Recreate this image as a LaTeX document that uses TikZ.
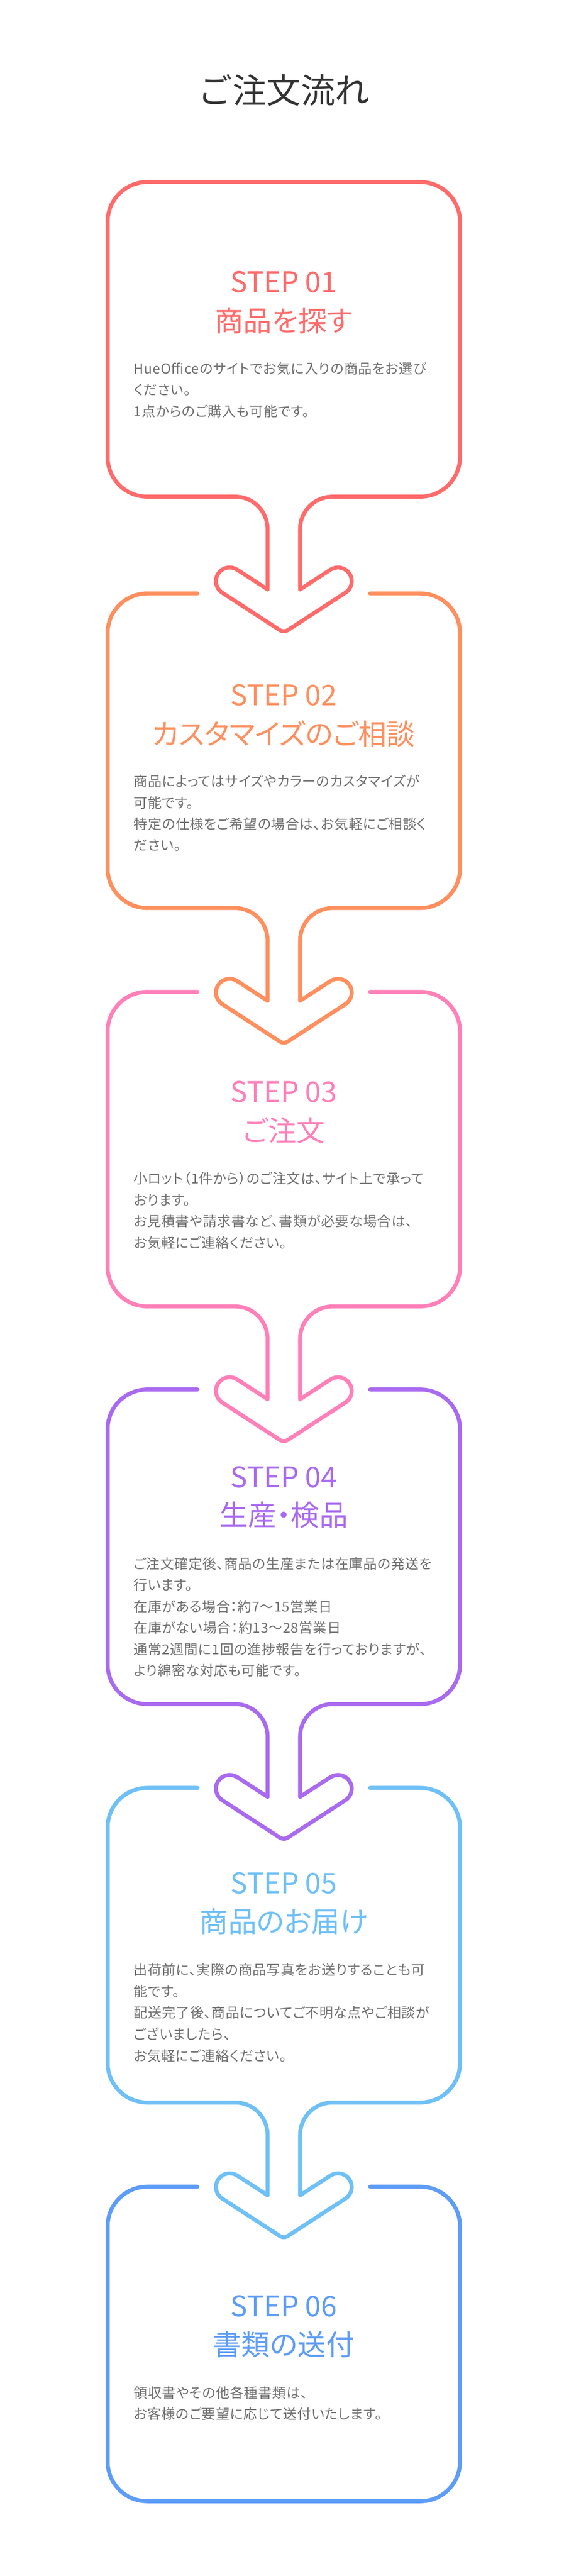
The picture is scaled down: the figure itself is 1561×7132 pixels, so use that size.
\documentclass[tikz,border=0pt]{standalone}
\usepackage{fontspec}
\setmainfont{Noto Sans CJK JP}
\newfontfamily\paltfont[RawFeature=+palt]{Noto Sans CJK JP}
\newfontfamily\bodyfont[RawFeature=+palt, LetterSpace=3]{Noto Sans CJK JP}
\definecolor{step1}{HTML}{FF6B6B}
\definecolor{step2}{HTML}{FF8F5E}
\definecolor{step3}{HTML}{FF80B9}
\definecolor{step4}{HTML}{A96AF0}
\definecolor{step5}{HTML}{6EC0F7}
\definecolor{step6}{HTML}{5D9CF8}
\definecolor{titlegrey}{HTML}{333333}
\definecolor{bodygrey}{HTML}{707070}
\tikzset{
	outline/.style={
		line width=5.5pt,
		line cap=round,
		line join=round
	},
	steplbl/.style={
		inner sep=0pt,
		font=\paltfont\fontsize{39.5}{42}\selectfont
	},
	bodyline/.style={
		anchor=west,
		inner sep=0pt,
		text=bodygrey,
		font=\bodyfont\fontsize{19}{30}\selectfont
	}
}
\begin{document}
\begin{tikzpicture}[x=0.5pt, y=-0.5pt]

\fill[white] (0,0) rectangle (1561,7132);
\useasboundingbox (0,0) rectangle (1561,7132);

\node(title)[inner sep=0pt, text=titlegrey, font=\fontsize{47.5}{50}\selectfont] at (786,250) {ご注文流れ};

% boxes, necks and arrow heads
\foreach \ii/\yt/\xs in {1/504/786, 2/1643/547, 3/2746/547, 4/3847/547, 5/4950/547, 6/6054/547} {
	\pgfmathsetmacro\yb{\yt+871}
	\draw[outline, draw=step\ii] (\xs,\yt) -- (408,\yt) arc[start angle=90, end angle=180, radius=55pt]
		-- (298,\yb-110) arc[start angle=180, end angle=270, radius=55pt] -- (651,\yb);
	\draw[outline, draw=step\ii] (1572-\xs,\yt) -- (1164,\yt) arc[start angle=90, end angle=0, radius=55pt]
		-- (1274,\yb-110) arc[start angle=0, end angle=-90, radius=55pt] -- (921,\yb);
	\ifnum\ii<6
	\draw[outline, draw=step\ii] (651,\yb) arc[start angle=90, end angle=0, radius=45pt]
		-- (741,\yb+256.8) -- (656.7,\yb+202.1) arc[start angle=57, end angle=237, radius=19pt]
		-- (775.1,\yb+369.7) arc[start angle=-123, end angle=-57, radius=10pt]
		-- (956.7,\yb+265.9) arc[start angle=-57, end angle=123, radius=19pt]
		-- (831,\yb+256.8) -- (831,\yb+90) arc[start angle=180, end angle=90, radius=45pt];
	\else
	\draw[outline, draw=step\ii] (651,\yb) -- (921,\yb);
	\fi
};

% STEP 01
\node(s1)[steplbl, text=step1] at (786,781) {STEP 01};
\node(h1)[steplbl, text=step1] at (786,888) {商品を探す};
\foreach \ln [count=\jj] in {HueOfficeのサイトでお気に入りの商品をお選び, ください。, 1点からのご購入も可能です。}
	\node(b1-\jj)[bodyline] at (370,{1020+59.3*(\jj-1)}) {\ln};

% STEP 02
\node(s2)[steplbl, text=step2] at (786,1925) {STEP 02};
\node(h2)[steplbl, text=step2] at (786,2032) {カスタマイズのご相談};
\foreach \ln [count=\jj] in {商品によってはサイズやカラーのカスタマイズが, 可能です。, 特定の仕様をご希望の場合は、お気軽にご相談く, ださい。}
	\node(b2-\jj)[bodyline] at (370,{2163+59.3*(\jj-1)}) {\ln};

% STEP 03
\node(s3)[steplbl, text=step3] at (786,3023) {STEP 03};
\node(h3)[steplbl, text=step3] at (786,3130) {ご注文};
\foreach \ln [count=\jj] in {小ロット（1件から）のご注文は、サイト上で承って, おります。, お見積書や請求書など、書類が必要な場合は、, お気軽にご連絡ください。}
	\node(b3-\jj)[bodyline] at (370,{3263+59.3*(\jj-1)}) {\ln};

% STEP 04
\node(s4)[steplbl, text=step4] at (786,4090) {STEP 04};
\node(h4)[steplbl, text=step4] at (786,4194) {生産・検品};
\foreach \ln [count=\jj] in {ご注文確定後、商品の生産または在庫品の発送を, 行います。, 在庫がある場合：約7～15営業日, 在庫がない場合：約13～28営業日, 通常2週間に1回の進捗報告を行っておりますが、, より綿密な対応も可能です。}
	\node(b4-\jj)[bodyline] at (370,{4329+59.3*(\jj-1)}) {\ln};

% STEP 05
\node(s5)[steplbl, text=step5] at (786,5213) {STEP 05};
\node(h5)[steplbl, text=step5] at (786,5320) {商品のお届け};
\foreach \ln [count=\jj] in {出荷前に、実際の商品写真をお送りすることも可, 能です。, 配送完了後、商品についてご不明な点やご相談が, ございましたら、, お気軽にご連絡ください。}
	\node(b5-\jj)[bodyline] at (370,{5454+59.3*(\jj-1)}) {\ln};

% STEP 06
\node(s6)[steplbl, text=step6] at (786,6385) {STEP 06};
\node(h6)[steplbl, text=step6] at (786,6491) {書類の送付};
\foreach \ln [count=\jj] in {領収書やその他各種書類は、, お客様のご要望に応じて送付いたします。}
	\node(b6-\jj)[bodyline] at (370,{6624+59.3*(\jj-1)}) {\ln};

\end{tikzpicture}
\end{document}
